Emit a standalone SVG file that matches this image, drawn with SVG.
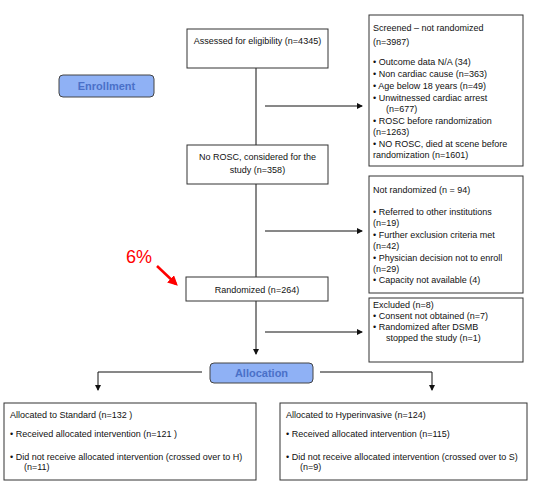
<svg xmlns="http://www.w3.org/2000/svg" width="537" height="485" viewBox="0 0 537 485">
<defs>
<style>
.box{fill:#fff;stroke:#333;stroke-width:1}
.phase{fill:#8fb1f5;stroke:#444;stroke-width:1}
.t{font-family:"Liberation Sans",Arial,sans-serif;font-size:9px;fill:#111}
.ph{font-family:"Liberation Sans",Arial,sans-serif;font-size:11px;font-weight:bold;fill:#4a70c8}
.ln{fill:none;stroke:#111;stroke-width:1}
</style>
<marker id="ah" markerWidth="6" markerHeight="6" refX="5" refY="3" orient="auto" markerUnits="userSpaceOnUse">
<path d="M0,0 L6,3 L0,6 z" fill="#111"/>
</marker>
<marker id="rh" markerWidth="4" markerHeight="4" refX="3" refY="2" orient="auto">
<path d="M0,0 L4,2 L0,4 z" fill="#f00"/>
</marker>
</defs>
<rect width="537" height="485" fill="#fff"/>

<g id="connectors">
<line class="ln" x1="256" y1="68" x2="256" y2="145"/>
<line class="ln" x1="256" y1="184" x2="256" y2="277"/>
<line class="ln" x1="256" y1="301" x2="256" y2="354" marker-end="url(#ah)"/>
<line class="ln" x1="265" y1="106" x2="362" y2="106" marker-end="url(#ah)"/>
<line class="ln" x1="265" y1="231" x2="362" y2="231" marker-end="url(#ah)"/>
<line class="ln" x1="265" y1="332" x2="362" y2="332" marker-end="url(#ah)"/>
<polyline class="ln" points="202,372 98,372 98,390" marker-end="url(#ah)"/>
<polyline class="ln" points="320,372 432,372 432,390" marker-end="url(#ah)"/>
</g>

<g id="enrollment">
<rect class="phase" x="59" y="75" width="95" height="22" rx="4"/>
<text class="ph" x="106.5" y="90" text-anchor="middle">Enrollment</text>
</g>

<g id="assessed">
<rect class="box" x="187" y="29" width="141" height="39"/>
<text class="t" x="257.5" y="44" text-anchor="middle">Assessed for eligibility (n=4345)</text>
</g>

<g id="screened">
<rect class="box" x="369" y="15" width="154" height="151"/>
<text class="t" x="373" y="31">Screened – not randomized</text>
<text class="t" x="373" y="45">(n=3987)</text>
<text class="t" x="373" y="65">• Outcome data N/A (34)</text>
<text class="t" x="373" y="77">• Non cardiac cause (n=363)</text>
<text class="t" x="373" y="89">•  Age below 18 years (n=49)</text>
<text class="t" x="373" y="101">•  Unwitnessed cardiac arrest</text>
<text class="t" x="386" y="112">(n=677)</text>
<text class="t" x="373" y="124">•  ROSC before randomization</text>
<text class="t" x="373" y="135">(n=1263)</text>
<text class="t" x="373" y="147">•  NO ROSC, died at scene before</text>
<text class="t" x="373" y="158">randomization (n=1601)</text>
</g>

<g id="norosc">
<rect class="box" x="187" y="145" width="141" height="39"/>
<text class="t" x="257.5" y="160" text-anchor="middle">No ROSC, considered for the</text>
<text class="t" x="257.5" y="173" text-anchor="middle">study (n=358)</text>
</g>

<g id="notrandomized">
<rect class="box" x="369" y="176" width="154" height="117"/>
<text class="t" x="373" y="193">Not randomized (n = 94)</text>
<text class="t" x="373" y="215">• Referred to other institutions</text>
<text class="t" x="373" y="226">(n=19)</text>
<text class="t" x="373" y="238">• Further exclusion criteria met</text>
<text class="t" x="373" y="249">(n=42)</text>
<text class="t" x="373" y="261">• Physician decision not to enroll</text>
<text class="t" x="373" y="272">(n=29)</text>
<text class="t" x="373" y="283">• Capacity not available (4)</text>
</g>

<g id="randomized">
<rect class="box" x="186" y="277" width="142" height="24"/>
<text class="t" x="257" y="293" text-anchor="middle">Randomized (n=264)</text>
</g>

<g id="excluded">
<rect class="box" x="369" y="298" width="154" height="64"/>
<text class="t" x="373" y="308">Excluded  (n=8)</text>
<text class="t" x="373" y="319">•  Consent not obtained (n=7)</text>
<text class="t" x="373" y="330">•  Randomized after DSMB</text>
<text class="t" x="386" y="341">stopped the study (n=1)</text>
</g>

<g id="pct">
<text x="139" y="263" text-anchor="middle" style="font-family:'Liberation Sans',Arial,sans-serif;font-size:18px;fill:#f00">6%</text>
<line x1="157" y1="266" x2="176" y2="284" stroke="#f00" stroke-width="2.5" marker-end="url(#rh)"/>
</g>

<g id="allocation">
<rect class="phase" x="210" y="363" width="103" height="20" rx="4"/>
<text class="ph" x="261.5" y="377" text-anchor="middle">Allocation</text>
</g>

<g id="standard">
<rect class="box" x="4" y="403" width="252" height="77"/>
<text class="t" x="10" y="418">Allocated to Standard  (n=132 )</text>
<text class="t" x="10" y="437">• Received allocated intervention (n=121 )</text>
<text class="t" x="10" y="460">• Did not receive allocated intervention (crossed over to H)</text>
<text class="t" x="24" y="470">(n=11)</text>
</g>

<g id="hyper">
<rect class="box" x="280" y="403" width="247" height="77"/>
<text class="t" x="286" y="418">Allocated to Hyperinvasive (n=124)</text>
<text class="t" x="286" y="437">• Received allocated intervention (n=115)</text>
<text class="t" x="286" y="460">• Did not receive allocated intervention (crossed over to S)</text>
<text class="t" x="300" y="470">(n=9)</text>
</g>
</svg>
